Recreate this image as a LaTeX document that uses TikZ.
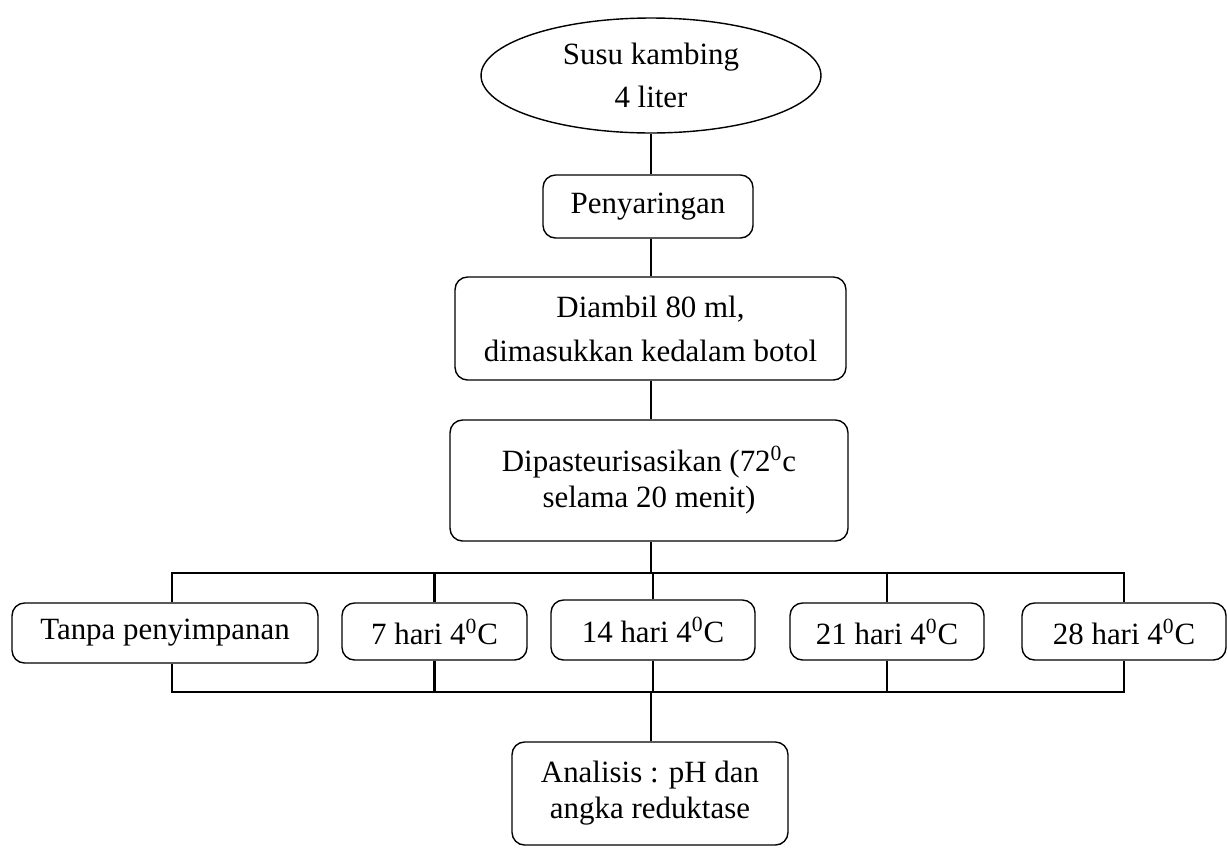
\documentclass[tikz,border=0pt]{standalone}
\usepackage{fontspec}
\setmainfont{Liberation Serif}
\usetikzlibrary{shapes.geometric}

\tikzset{
  stage/.style={draw, rounded corners=.25cm, align=center, inner sep=0pt,
    font=\fontsize{17.6}{25}\selectfont},
  tight/.style={font=\fontsize{17.6}{20.5}\selectfont},
  stem/.style={line width=1.2pt}
}

\begin{document}
\begin{tikzpicture}[x=.02cm, y=-.02cm, line width=.8pt]
  \useasboundingbox (0,0) rectangle (1227,849);
  % main line
  \node (susu) [draw, ellipse, align=center, inner sep=0pt,
    minimum width=6.8cm, minimum height=2.3cm,
    font=\fontsize{17.6}{24}\selectfont] at (651,75.5) {Susu kambing\\4 liter};
  \node (saring) [stage, minimum width=4.2cm, minimum height=1.26cm]
    at (648,206.5) {Penyaringan};
  \node (ambil) [stage, minimum width=7.82cm, minimum height=2.06cm]
    at (650.5,328.5) {Diambil 80 ml,\\dimasukkan kedalam botol};
  \node (pasteur) [stage, tight, minimum width=7.96cm, minimum height=2.42cm]
    at (649,480.5) {Dipasteurisasikan (72\textsuperscript{0}c\\selama 20 menit)};
  % storage
  \node (tanpa) [stage, minimum width=6.12cm, minimum height=1.2cm]
    at (165,633) {Tanpa penyimpanan};
  \node (h7) [stage, minimum width=3.7cm, minimum height=1.14cm]
    at (434.5,631.5) {7 hari 4\textsuperscript{0}C};
  \node (h14) [stage, minimum width=4.08cm, minimum height=1.2cm]
    at (653,630) {14 hari 4\textsuperscript{0}C};
  \node (h21) [stage, minimum width=3.88cm, minimum height=1.14cm]
    at (887,631.5) {21 hari 4\textsuperscript{0}C};
  \node (h28) [stage, minimum width=4.08cm, minimum height=1.14cm]
    at (1124,631.5) {28 hari 4\textsuperscript{0}C};
  \node (analisis) [stage, tight, minimum width=5.52cm, minimum height=2.06cm]
    at (650,793.5) {Analisis : pH dan\\angka reduktase};
  \coordinate (top) at (651,573);
  \coordinate (bot) at (651,692);

  \draw (susu.south) -- (susu.south |- saring.north);
  \draw (saring.south -| susu.south) -- (susu.south |- ambil.north);
  \draw (ambil.south -| susu.south) -- (susu.south |- pasteur.north);
  \draw (pasteur.south -| susu.south) -- (top);
  \draw ([xshift=.14cm]tanpa.north) |- (top) -| (h28.north);
  \draw[stem] (h7.north) -- (h7.north |- top);
  \draw (h14.north) -- (h14.north |- top);
  \draw (h21.north) -- (h21.north |- top);
  \draw ([xshift=.14cm]tanpa.south) |- (bot) -| (h28.south);
  \draw[stem] (h7.south) -- (h7.south |- bot);
  \draw (h14.south) -- (h14.south |- bot);
  \draw[stem] (h21.south) -- (h21.south |- bot);
  \draw (bot) -- (bot |- analisis.north);
\end{tikzpicture}
\end{document}
